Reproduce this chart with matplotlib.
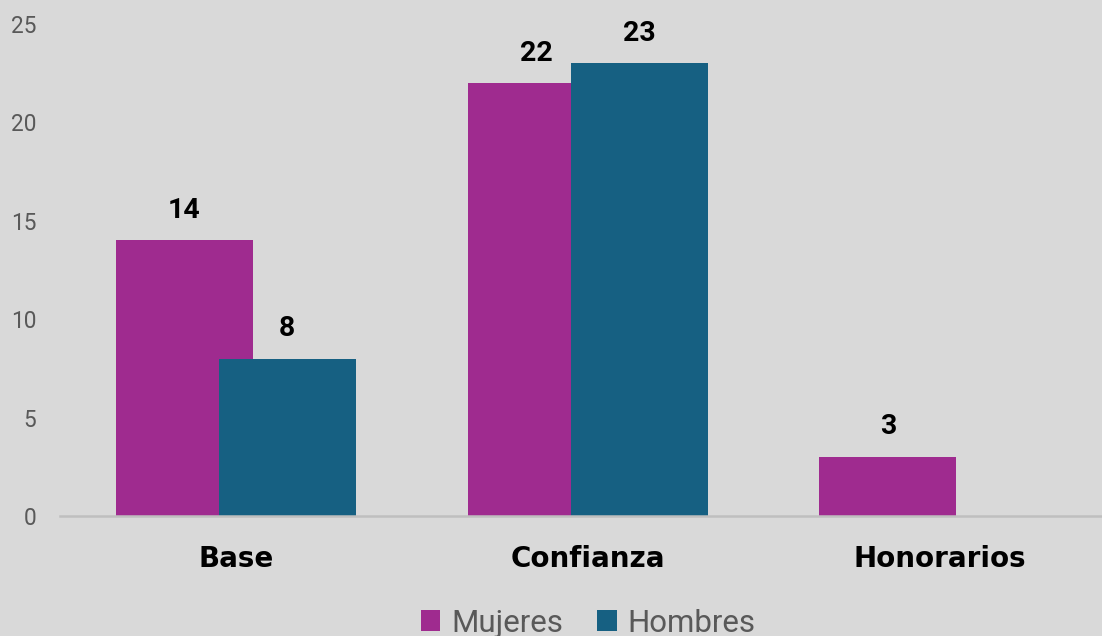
import matplotlib
matplotlib.use("Agg")
import matplotlib.pyplot as plt
import numpy as np
from matplotlib.patches import Patch

categories = ["Base", "Confianza", "Honorarios"]
series_names = ["Mujeres", "Hombres"]
mujeres = [14, 22, 3]
hombres = [8, 23, 0]
yticks = [0, 5, 10, 15, 20, 25]

col_m = "#9F2B8F"
col_h = "#166082"
bg = "#D9D9D9"

fig = plt.figure(figsize=(11.02, 6.36), dpi=100, facecolor=bg)
ax = fig.add_axes([60/1102, 120/636, 1042/1102, 492/636], facecolor=bg)

x = np.arange(len(categories))
w = 0.389
off_m, off_h = -0.147, 0.146
for vals, off, col in [(mujeres, off_m, col_m), (hombres, off_h, col_h)]:
    bars = ax.bar(x + off, vals, width=w, color=col, zorder=2)
    for b, v in zip(bars, vals):
        if v == 0:
            continue
        ax.annotate(str(v), (b.get_x() + b.get_width()/2, v), xytext=(0, 21.6),
                    textcoords="offset points", ha="center", va="center",
                    fontsize=20.5, fontweight="bold", family="Roboto",
                    color="black", clip_on=False)

ax.set_xlim(-0.5, (1102 - 235.5) / 352)
ax.set_ylim(0, 25)
ax.set_yticks(yticks)
ax.set_yticklabels([str(t) for t in yticks], fontsize=16.3, family="Roboto", color="#595959")
ax.set_xticks(x)
ax.set_xticklabels(categories, fontsize=20, fontweight="bold", family="DejaVu Sans", color="black")
ax.tick_params(axis="y", length=0, pad=17)
ax.tick_params(axis="x", length=0, pad=21)
for s in ["top", "right", "left"]:
    ax.spines[s].set_visible(False)
ax.spines["bottom"].set_color("#BFBFBF")
ax.spines["bottom"].set_linewidth(1.8)
ax.spines["bottom"].set_zorder(3)

handles = [Patch(facecolor=col_m, label=series_names[0]), Patch(facecolor=col_h, label=series_names[1])]
fig.legend(handles=handles, loc="center", bbox_to_anchor=(588/1102, 1 - 623/636), ncol=2,
           frameon=False, prop={"family": "Roboto", "size": 22.5}, labelcolor="#595959",
           handlelength=0.62, handleheight=0.62, handletextpad=0.35, columnspacing=1.1)

fig.savefig("out.png", dpi=100, facecolor=bg)
